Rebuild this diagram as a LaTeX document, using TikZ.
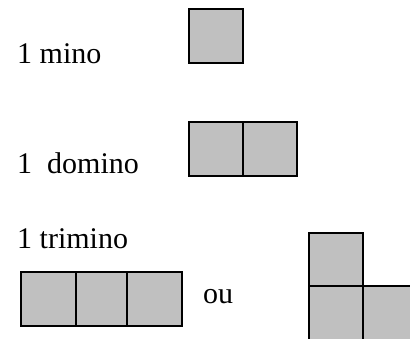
\documentclass[tikz,border=0pt]{standalone}
\usepackage{fontspec}
\setmainfont{Liberation Serif}
\begin{document}
\begin{tikzpicture}[x=1pt,y=-1pt,
  cell/.style={fill={rgb,255:red,192;green,192;blue,192},draw=black,line width=2.6pt},
  lbl/.style={anchor=base west,inner sep=0pt,font=\fontsize{30}{36}\selectfont}]
\useasboundingbox (0,0) rectangle (410,338);
\clip (0,0) rectangle (410,338);
% labels
\node[lbl] (mino) at (17,63) {1 mino};
\node[lbl] (domino) at (17,173) {1\ \ domino};
\node[lbl] (trimino) at (17,248) {1 trimino};
\node[lbl] (ou) at (203,303) {ou};
% monomino
\draw[cell] (189,9) rectangle (243,63);
% domino
\draw[cell] (189,122) rectangle (243,176);
\draw[cell] (243,122) rectangle (297,176);
% straight trimino
\draw[cell] (21,272) rectangle (76,326);
\draw[cell] (76,272) rectangle (127,326);
\draw[cell] (127,272) rectangle (182,326);
% L trimino
\draw[cell] (309,233) rectangle (363,286);
\draw[cell] (309,286) rectangle (363,340);
\draw[cell] (363,286) rectangle (417,340);
\end{tikzpicture}
\end{document}
